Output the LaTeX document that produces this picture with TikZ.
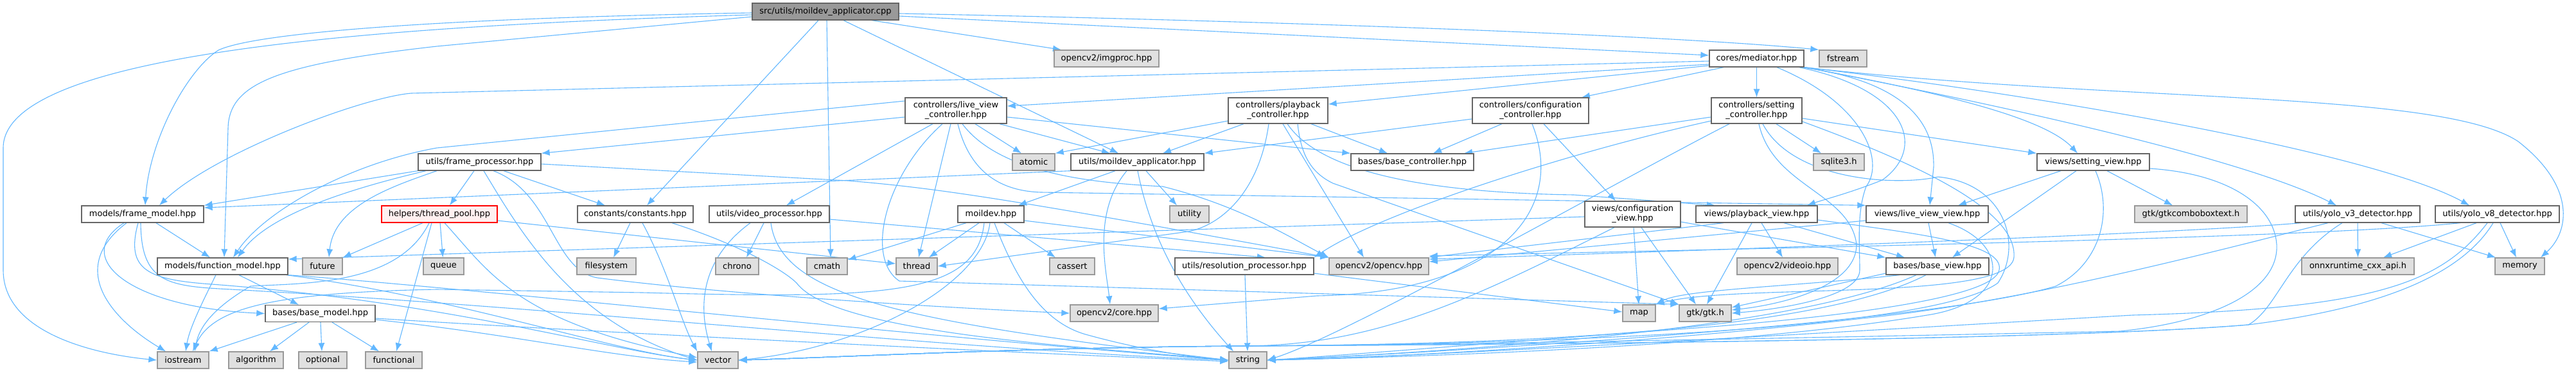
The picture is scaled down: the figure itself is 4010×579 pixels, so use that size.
\documentclass[tikz,border=0pt]{standalone}
\usepackage{fontspec}
\setmainfont{DejaVu Sans}
\usetikzlibrary{arrows.meta}
\pgfdeclarelayer{bg}
\pgfsetlayers{bg,main}
\definecolor{edgec}{HTML}{63B8FF}
\definecolor{extfill}{HTML}{E0E0E0}
\definecolor{extdraw}{HTML}{999999}
\definecolor{nddraw}{HTML}{666666}
\definecolor{rootfill}{HTML}{999999}
\definecolor{redfill}{HTML}{FFF0F0}
\definecolor{reddraw}{HTML}{FF0000}
\tikzset{
 basebox/.style={rectangle, inner sep=0pt, font=\fontsize{13}{15}\selectfont, align=center, line width=1.3pt, minimum height=26pt},
 nd/.style={basebox, draw=nddraw, fill=white},
 ext/.style={basebox, draw=extdraw, fill=extfill},
 rootnd/.style={basebox, draw=nddraw, fill=rootfill},
 trunc/.style={basebox, draw=reddraw, fill=redfill},
 wd/.style={minimum width=#1pt},
 tall/.style={minimum height=40pt},
 edge/.style={draw=edgec, line width=1.1pt, -{Latex[length=13pt,width=10pt]}},
}
\begin{document}
\begin{tikzpicture}[x=1pt,y=-1pt]
\useasboundingbox (0,0) rectangle (4010,579);
\begin{pgfonlayer}{bg}
\fill[white] (0,0) rectangle (4010,579);
\end{pgfonlayer}
% ---------- nodes ----------
\node[rootnd,wd=228] (R) at (1285,18) {src/utils/moildev\_applicator.cpp};
\node[ext,wd=163] (imgproc) at (1722.5,91) {opencv2/imgproc.hpp};
\node[nd,wd=147] (MED) at (2734.5,91) {cores/mediator.hpp};
\node[ext,wd=74] (fstream) at (2869,91) {fstream};
\node[nd,wd=158,tall] (LVC) at (1488,172) {controllers/live\_view\\\_controller.hpp};
\node[nd,wd=155,tall] (PBC) at (1989.5,172) {controllers/playback\\\_controller.hpp};
\node[nd,wd=181,tall] (CC) at (2382.5,172) {controllers/configuration\\\_controller.hpp};
\node[nd,wd=141,tall] (SC) at (2734.5,172) {controllers/setting\\\_controller.hpp};
\node[nd,wd=191] (FP) at (746.5,252) {utils/frame\_processor.hpp};
\node[ext,wd=66] (atomic) at (1609,252) {atomic};
\node[nd,wd=207] (MA) at (1770.5,252) {utils/moildev\_applicator.hpp};
\node[nd,wd=191] (BC) at (2198.5,252) {bases/base\_controller.hpp};
\node[ext,wd=79] (sqlite) at (2862.5,252) {sqlite3.h};
\node[nd,wd=175] (SV) at (3258.5,252) {views/setting\_view.hpp};
\node[nd,wd=190] (FM) at (222,333) {models/frame\_model.hpp};
\node[trunc,wd=180] (TP) at (684,333) {helpers/thread\_pool.hpp};
\node[nd,wd=180] (CON) at (989,333) {constants/constants.hpp};
\node[nd,wd=187] (VP) at (1197.5,333) {utils/video\_processor.hpp};
\node[nd,wd=103] (moildev) at (1542.5,333) {moildev.hpp};
\node[ext,wd=61] (utility) at (1851.5,333) {utility};
\node[nd,wd=149,tall] (CV) at (2541.5,333) {views/configuration\\\_view.hpp};
\node[nd,wd=189] (PV) at (2734.5,333) {views/playback\_view.hpp};
\node[nd,wd=190] (LVV) at (3000,333) {views/live\_view\_view.hpp};
\node[ext,wd=175] (combo) at (3410.5,333) {gtk/gtkcomboboxtext.h};
\node[nd,wd=194] (Y3) at (3670,333) {utils/yolo\_v3\_detector.hpp};
\node[nd,wd=193] (Y8) at (3887.5,333) {utils/yolo\_v8\_detector.hpp};
\node[nd,wd=203] (FN) at (346.5,414) {models/function\_model.hpp};
\node[ext,wd=62] (future) at (502,414) {future};
\node[ext,wd=63] (queue) at (690.5,414) {queue};
\node[ext,wd=92] (filesystem) at (944,414) {filesystem};
\node[ext,wd=67] (chrono) at (1147.5,414) {chrono};
\node[ext,wd=63] (cmath) at (1287.5,414) {cmath};
\node[ext,wd=64] (thread) at (1427,414) {thread};
\node[ext,wd=70] (cassert) at (1669,414) {cassert};
\node[nd,wd=216] (RP) at (1937,414) {utils/resolution\_processor.hpp};
\node[ext,wd=155] (opencv) at (2146.5,414) {opencv2/opencv.hpp};
\node[ext,wd=157] (videoio) at (2782.5,414) {opencv2/videoio.hpp};
\node[nd,wd=160] (BV) at (3016,414) {bases/base\_view.hpp};
\node[ext,wd=175] (onnx) at (3670.5,414) {onnxruntime\_cxx\_api.h};
\node[ext,wd=77] (memory) at (3922.5,414) {memory};
\node[nd,wd=171] (BM) at (498.5,487.5) {bases/base\_model.hpp};
\node[ext,wd=137] (core) at (1734.5,487) {opencv2/core.hpp};
\node[ext,wd=51] (map) at (2551.5,487) {map};
\node[ext,wd=81] (gtk) at (2654.5,487) {gtk/gtk.h};
\node[ext,wd=80] (iostream) at (285,560) {iostream};
\node[ext,wd=85] (algorithm) at (398.5,560) {algorithm};
\node[ext,wd=75] (optional) at (502.5,560) {optional};
\node[ext,wd=88] (functional) at (613,560) {functional};
\node[ext,wd=63] (vector) at (1117.5,560) {vector};
\node[ext,wd=59] (string) at (1942.5,560) {string};
% ---------- edges ----------
\begin{pgfonlayer}{bg}
% root
\draw[edge] ([yshift=-5pt]R.west) .. controls (600,40) and (5,80) .. (5,230) -- (5,420) .. controls (5,515) and (140,550) .. (iostream.west);
\draw[edge] ([yshift=-2pt]R.west) .. controls (700,28) and (400,50) .. (340,78) .. controls (290,110) and (232,220) .. (FM.north -| 226,0);
\draw[edge] ([yshift=-8pt]R.west) -- (680,72) .. controls (430,100) and (356,130) .. (355,200) -- (FN.north -| 349,0);
\draw[edge] (R.south -| 1274,0) -- (CON.north -| 1007,0);
\draw[edge] (R.south -| 1287,0) -- (cmath.north -| 1293,0);
\draw[edge] (R.south -| 1313,0) -- (MA.north -| 1741,0);
\draw[edge] (R.south -| 1357,0) -- (imgproc.north -| 1652,0);
\draw[edge] (R.east |- 0,25) -- (MED.west |- 0,86);
\draw[edge] (R.east |- 0,21) .. controls (2000,33) and (2600,55) .. (fstream.north west);
% mediator
\draw[edge] (MED.west |- 0,100) -- (LVC.east |- 0,165);
\draw[edge] (MED.west |- 0,102) -- (PBC.east |- 0,162);
\draw[edge] (MED.south -| 2683,0) -- (CC.north -| 2462,0);
\draw[edge] (MED) -- (SC);
\draw[edge] (MED.west |- 0,95) -- (640,145) .. controls (560,152) and (330,240) .. (FM.north -| 248,0);
\draw[edge] (MED.south east) .. controls (3000,140) and (3180,180) .. (SV.north -| 3234,0);
\draw[edge] ([xshift=-3pt]MED.south east) .. controls (2950,125) and (3012,180) .. (3010,260) -- (LVV.north -| 3004,0);
\draw[edge] ([xshift=-8pt]MED.south east) .. controls (2970,140) and (3000,230) .. (2930,280) .. controls (2880,300) and (2840,310) .. (PV.north -| 2813,0);
\draw[edge] (MED.south -| 2766,0) .. controls (2900,160) and (2935,250) .. (2905,290) .. controls (2890,330) and (2895,380) .. (2895,420) .. controls (2895,460) and (2780,480) .. (gtk.east);
\draw[edge] (MED.south east) .. controls (3300,160) and (3800,140) .. (3920,220) .. controls (4010,290) and (4000,360) .. (memory.north -| 3955,0);
\draw[edge] (MED.south east) .. controls (3200,150) and (3700,240) .. (Y8.north -| 3844,0);
\draw[edge] (MED.south east) .. controls (3150,170) and (3500,250) .. (Y3.north -| 3637,0);
% live view controller
\draw[edge] (LVC.west |- 0,182) -- (FP.north east);
\draw[edge] (LVC.west |- 0,157) -- (680,230) .. controls (540,255) and (410,330) .. (FN.north -| 363,0);
\draw[edge] (LVC.south -| 1518,0) -- (atomic.north -| 1590,0);
\draw[edge] (LVC.south -| 1556,0) -- (MA.north -| 1728,0);
\draw[edge] (LVC.east |- 0,182) -- (BC.north west);
\draw[edge] (LVC.south -| 1452,0) -- (VP.north -| 1224,0);
\draw[edge] (LVC.south -| 1480,0) -- (thread.north -| 1430,0);
\draw[edge] (LVC.south -| 1491,0) .. controls (1510,270) and (1560,297) .. (1620,299) -- (LVV.north west);
\draw[edge] (LVC.south -| 1467,0) .. controls (1380,270) and (1345,400) .. (1400,437) -- (gtk.north west);
\draw[edge] (LVC.south -| 1498,0) .. controls (1560,275) and (1720,285) .. (1810,290) .. controls (1930,320) and (2010,370) .. (opencv.north west);
% playback controller
\draw[edge] (PBC.west |- 0,188) -- (atomic.north east);
\draw[edge] (PBC.south -| 1936,0) -- (MA.north -| 1810,0);
\draw[edge] (PBC.south -| 2041,0) -- (BC.north -| 2160,0);
\draw[edge] (PBC.south -| 1975,0) .. controls (1960,300) and (1900,350) .. (1850,360) -- (thread.east);
\draw[edge] (PBC.south -| 1997,0) -- (opencv.north -| 2123,0);
\draw[edge] (PBC.south -| 2004,0) .. controls (2060,275) and (2250,300) .. (2450,303) -- (PV.north -| 2670,0);
\draw[edge] (PBC.south -| 2020,0) .. controls (2025,240) and (2040,268) .. (2075,285) -- (gtk.north west);
% configuration controller
\draw[edge] (CC.west |- 0,185) -- (MA.north east);
\draw[edge] (CC.south -| 2338,0) -- (BC.north -| 2231,0);
\draw[edge] (CC.south -| 2403,0) -- (CV.north -| 2515,0);
\draw[edge] (CC.south -| 2385,0) .. controls (2440,330) and (2330,455) .. (2050,460) -- (core.east |- 0,480);
% setting controller
\draw[edge] (SC.west |- 0,182) -- (BC.north -| 2279,0);
\draw[edge] (SC.south -| 2765,0) -- (sqlite.north -| 2835,0);
\draw[edge] (SC.east |- 0,184) -- (SV.north west);
\draw[edge] (SC.west |- 0,188) .. controls (2450,235) and (2150,330) .. (RP.north east);
\draw[edge] (SC.south -| 2692,0) .. controls (2520,280) and (2100,520) .. (string.east);
\draw[edge] (SC.south -| 2738,0) .. controls (2760,290) and (2880,300) .. (2890,380) .. controls (2890,450) and (2760,475) .. (gtk.east |- 0,482);
\draw[edge] (SC.south -| 2744,0) .. controls (2790,280) and (2950,290) .. (3017,275) .. controls (3120,285) and (3150,380) .. (3110,440) .. controls (3000,520) and (2300,536) .. (1940,538) .. controls (1600,540) and (1300,556) .. (vector.east);
\draw[edge] (SC.east |- 0,189) .. controls (3000,260) and (3140,330) .. (3135,400) .. controls (3130,470) and (2700,440) .. (map.north east);
% setting view
\draw[edge] (SV.south -| 3208,0) -- (LVV.north -| 3048,0);
\draw[edge] (SV.south -| 3232,0) -- (BV.north -| 3039,0);
\draw[edge] (SV.south -| 3280,0) -- (combo.north -| 3382,0);
\draw[edge] (SV.south -| 3262,0) .. controls (3290,330) and (3270,410) .. (3200,445) .. controls (3000,505) and (2200,550) .. (string.east);
\draw[edge] (SV.east |- 0,262) .. controls (3470,270) and (3540,320) .. (3544,380) .. controls (3548,450) and (3450,500) .. (3300,515) .. controls (2600,530) and (2200,536) .. (1940,538) .. controls (1600,540) and (1300,556) .. (vector.east);
% live view view
\draw[edge] (LVV.south -| 3002,0) -- (BV.north -| 3013,0);
\draw[edge] (LVV.west |- 0,343) -- (opencv.east |- 0,407);
\draw[edge] (LVV.south -| 3033,0) .. controls (3130,380) and (3130,470) .. (3000,490) .. controls (2700,540) and (2200,555) .. (string.east);
% playback view
\draw[edge] (PV.south -| 2777,0) -- (BV.north -| 2965,0);
\draw[edge] (PV.south -| 2742,0) -- (videoio.north -| 2775,0);
\draw[edge] (PV.south -| 2727,0) -- (gtk.north -| 2657,0);
\draw[edge] (PV.south -| 2683,0) -- (opencv.east |- 0,400);
\draw[edge] (PV.east |- 0,342) .. controls (3000,365) and (3120,380) .. (3112,420) .. controls (3105,460) and (2900,490) .. (2640,510) .. controls (2300,535) and (2100,552) .. (string.east);
% configuration view
\draw[edge] (CV.east |- 0,345) -- (BV.north west);
\draw[edge] (CV.south -| 2543,0) -- (map.north -| 2551,0);
\draw[edge] (CV.south -| 2555,0) -- (gtk.north -| 2640,0);
\draw[edge] (CV.south -| 2513,0) .. controls (2300,460) and (2150,536) .. (1940,538) .. controls (1600,540) and (1300,556) .. (vector.east);
\draw[edge] (CV.west |- 0,337) -- (FN.east |- 0,403);
% base view
\draw[edge] (BV.west |- 0,425) -- (gtk.east |- 0,478);
\draw[edge] (BV.south -| 2957,0) .. controls (2800,445) and (2620,450) .. (map.north east);
\draw[edge] (BV.south -| 2983,0) .. controls (2800,510) and (2300,545) .. (string.east);
\draw[edge] (BV.south -| 2998,0) .. controls (2800,530) and (2200,536) .. (1940,538) .. controls (1600,540) and (1300,556) .. (vector.east);
% yolo v3
\draw[edge] (Y3.south -| 3582,0) .. controls (3400,362) and (2800,385) .. (opencv.east |- 0,403);
\draw[edge] (Y3) -- (onnx);
\draw[edge] (Y3.south -| 3707,0) -- (memory.north -| 3885,0);
\draw[edge] (Y3.south -| 3624,0) .. controls (3450,390) and (3150,470) .. (2900,495) .. controls (2600,530) and (2200,555) .. (string.east);
\draw[edge] (Y3.south -| 3646,0) .. controls (3560,400) and (3545,480) .. (3500,505) .. controls (3200,530) and (2300,536) .. (1940,538) .. controls (1600,540) and (1300,556) .. (vector.east);
% yolo v8
\draw[edge] (Y8.south -| 3830,0) .. controls (3600,370) and (2800,385) .. (opencv.east |- 0,398);
\draw[edge] (Y8.south -| 3855,0) -- (onnx.north -| 3710,0);
\draw[edge] (Y8.south -| 3892,0) -- (memory.north -| 3917,0);
\draw[edge] (Y8.south -| 3872,0) .. controls (3800,440) and (3700,480) .. (3320,490) .. controls (2800,520) and (2200,555) .. (string.east);
\draw[edge] (Y8.south -| 3881,0) .. controls (3830,430) and (3700,480) .. (3500,505) .. controls (3200,530) and (2300,536) .. (1940,538) .. controls (1600,540) and (1300,556) .. (vector.east);
% moildev applicator hpp
\draw[edge] (MA.south -| 1736,0) -- (moildev.north -| 1585,0);
\draw[edge] (MA.south -| 1754,0) .. controls (1700,330) and (1722,420) .. (core.north -| 1728,0);
\draw[edge] (MA.south -| 1771,0) .. controls (1795,390) and (1860,480) .. (string.north -| 1920,0);
\draw[edge] (MA.south -| 1784,0) -- (utility.north -| 1832,0);
\draw[edge] (MA.south west) -- (FM.east |- 0,323);
% moildev.hpp
\draw[edge] (moildev.south -| 1504,0) -- (cmath.east |- 0,404);
\draw[edge] (moildev.south -| 1524,0) -- (thread.north -| 1446,0);
\draw[edge] (moildev.south -| 1563,0) -- (cassert.north -| 1643,0);
\draw[edge] (moildev.south -| 1548,0) .. controls (1580,430) and (1620,500) .. (1690,520) .. controls (1780,545) and (1860,556) .. (string.west);
\draw[edge] (moildev.south -| 1541,0) .. controls (1530,440) and (1350,540) .. (vector.east);
\draw[edge] (moildev.south -| 1532,0) .. controls (1520,460) and (1380,465) .. (1000,455) -- (680,450) .. controls (420,455) and (330,480) .. (iostream.north -| 300,0);
\draw[edge] (moildev.east |- 0,343) -- (opencv.north west);
% video processor
\draw[edge] (VP.south -| 1189,0) -- (chrono.north -| 1162,0);
\draw[edge] (VP.south -| 1168,0) .. controls (1095,400) and (1085,470) .. (vector.north -| 1108,0);
\draw[edge] (VP.south -| 1200,0) .. controls (1215,460) and (1400,500) .. (string.west);
\draw[edge] (VP.east |- 0,341) -- (RP.north -| 1970,0);
% frame processor
\draw[edge] (FP.south west) -- (FM.north east);
\draw[edge] (FP.south -| 663,0) .. controls (560,290) and (420,330) .. (FN.north -| 370,0);
\draw[edge] (FP.south -| 680,0) .. controls (610,290) and (520,320) .. (future.north -| 512,0);
\draw[edge] (FP.south -| 738,0) -- (TP.north -| 700,0);
\draw[edge] (FP.south -| 753,0) .. controls (810,360) and (890,500) .. (vector.west);
\draw[edge] (FP.south -| 768,0) .. controls (860,300) and (860,420) .. (930,432) .. controls (1150,460) and (1500,480) .. (core.west);
\draw[edge] (FP.south -| 784,0) -- (CON.north -| 942,0);
\draw[edge] (FP.east |- 0,255) -- (1320,281) .. controls (1450,292) and (1550,305) .. (opencv.north west);
% thread pool
\draw[edge] (TP.south -| 658,0) -- (future.north east);
\draw[edge] (TP) -- (queue);
\draw[edge] (TP.east |- 0,343) -- (thread.west |- 0,410);
\draw[edge] (TP.south -| 672,0) -- (functional.north -| 617,0);
\draw[edge] (TP.south -| 692,0) .. controls (760,420) and (800,500) .. (vector.west |- 0,556);
\draw[edge] (TP.south -| 668,0) .. controls (620,445) and (470,440) .. (390,445) .. controls (330,480) and (310,510) .. (iostream.north -| 303,0);
% constants
\draw[edge] (CON.south -| 981,0) -- (filesystem.north -| 955,0);
\draw[edge] (CON.south -| 1000,0) .. controls (1040,420) and (1060,500) .. (vector.north west);
\draw[edge] (CON.south -| 1046,0) .. controls (1150,380) and (1220,420) .. (1240,440) .. controls (1300,520) and (1700,540) .. (string.west);
% frame model
\draw[edge] (FM.south -| 243,0) -- (FN.north -| 327,0);
\draw[edge] (FM.south -| 193,0) .. controls (110,400) and (200,478) .. (BM.west);
\draw[edge] (FM.south -| 197,0) .. controls (100,420) and (180,500) .. (iostream.north -| 258,0);
\draw[edge] (FM.south -| 215,0) .. controls (195,420) and (230,435) .. (330,442) .. controls (700,470) and (950,545) .. (vector.west);
\draw[edge] (FM.south -| 219,0) .. controls (220,440) and (260,445) .. (360,450) .. controls (900,480) and (1500,545) .. (string.west);
% function model
\draw[edge] (FN.south -| 372,0) -- (BM.north -| 465,0);
\draw[edge] (FN.south -| 336,0) .. controls (315,470) and (295,510) .. (iostream.north -| 289,0);
\draw[edge] (FN.south east) .. controls (700,445) and (1500,530) .. (string.west);
\draw[edge] ([xshift=-3pt]FN.south east) .. controls (700,460) and (950,545) .. (vector.west);
% base model
\draw[edge] (BM.south -| 462,0) -- (iostream.north east);
\draw[edge] (BM.south -| 481,0) -- (algorithm.north -| 420,0);
\draw[edge] (BM.south -| 499,0) -- (optional.north -| 501,0);
\draw[edge] (BM.south -| 517,0) -- (functional.north -| 590,0);
\draw[edge] (BM.east |- 0,495) .. controls (900,515) and (1500,545) .. (string.west |- 0,562);
\draw[edge] (BM.east |- 0,497) .. controls (800,520) and (950,555) .. (vector.west |- 0,563);
% resolution processor
\draw[edge] (RP.south -| 1938,0) -- (string.north -| 1942,0);
\draw[edge] (RP.east |- 0,425) -- (map.west |- 0,485);
\end{pgfonlayer}
\end{tikzpicture}
\end{document}
